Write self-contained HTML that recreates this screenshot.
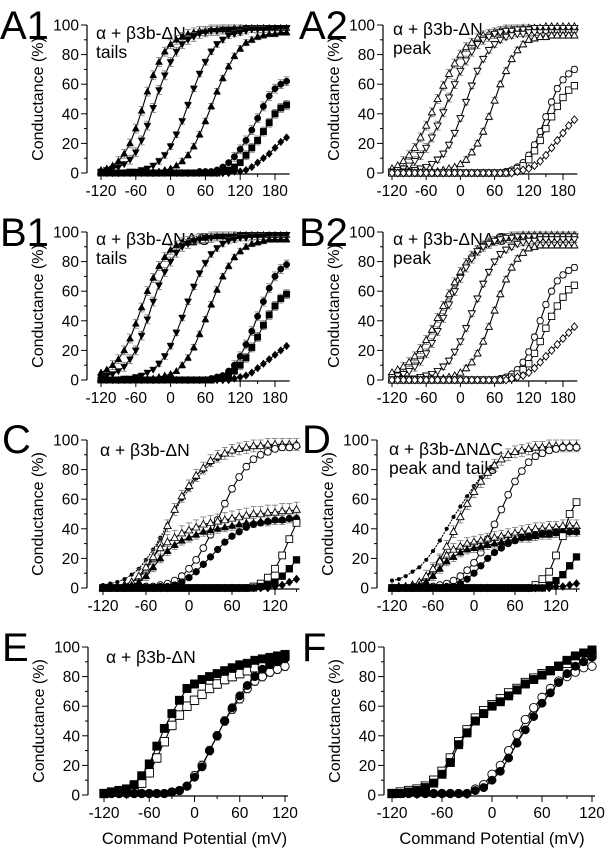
<!DOCTYPE html>
<html><head><meta charset="utf-8"><style>
html,body{margin:0;padding:0;background:#fff}
svg{display:block;font-family:"Liberation Sans",sans-serif}
</style></head><body>
<svg id="fig" width="611" height="853" viewBox="0 0 611 853"></svg>
<script>
// ---------- data (conductance %, sampled every 10 mV from -120) ----------
const voltsAB = [-120,-110,-100,-90,-80,-70,-60,-50,-40,-30,-20,-10,0,10,20,30,40,50,60,70,80,90,100,110,120,130,140,150,160,170,180,190,200];
const voltsCD = [-120,-110,-100,-90,-80,-70,-60,-50,-40,-30,-20,-10,0,10,20,30,40,50,60,70,80,90,100,110,120,130,140,150];
const voltsEF = [-120,-110,-100,-90,-80,-70,-60,-50,-40,-30,-20,-10,0,10,20,30,40,50,60,70,80,90,100,110,120];

const a1Tri1 = [2,3,5,8,13,20,30,42,55,66,75,82,87,90,92,94,95,96,96,97,97,97,97,98,98,98,98,98,98,98,98,98,98];
const a1Tri2 = [1,2,3,4,6,9,14,22,32,44,56,66,75,82,87,90,92,94,95,96,96,97,97,97,97,98,98,98,98,98,98,98,98];
const a1Tri3 = [0,0,0,0,0,1,1,2,3,5,8,12,18,26,35,46,57,67,75,82,87,90,93,94,95,96,97,97,97,98,98,98,98];
const a1Tri4 = [0,0,0,0,0,0,0,0,1,1,1,2,3,5,8,12,18,26,35,45,55,64,72,79,84,88,90,92,93,94,94,95,95];
const a1Circ = [0,0,0,0,0,0,0,0,0,0,0,0,0,0,0,0,0,1,1,1,2,4,7,11,16,22,29,37,45,52,57,60,62];
const a1Sq   = [0,0,0,0,0,0,0,0,0,0,0,0,0,0,0,0,0,0,0,0,0,1,2,4,7,12,17,22,28,34,40,44,46];
const a1Dia  = [0,0,0,0,0,0,0,0,0,0,0,0,0,0,0,0,0,0,0,0,0,0,0,1,1,2,4,7,10,13,17,21,24];

const a2P1 = [3,5,8,12,17,24,32,41,50,59,67,74,80,85,88,91,93,94,95,96,97,97,97,98,98,98,98,99,99,99,99,99,99];
const a2P2 = [1,2,3,5,8,12,17,24,32,41,51,60,69,76,82,87,90,92,94,95,96,96,97,97,97,98,98,98,98,98,98,98,98];
const a2P3 = [0,0,1,1,2,3,4,6,9,13,19,27,37,48,59,69,77,83,87,90,92,93,94,94,95,95,95,95,95,95,95,95,95];
const a2P4 = [0,0,0,0,0,0,0,1,1,2,3,4,6,9,14,20,28,38,49,60,69,77,83,87,90,91,92,92,93,93,93,93,93];
const a2Circ = [0,0,0,0,0,0,0,0,0,0,0,0,0,0,0,0,0,0,0,0,1,2,4,7,12,19,28,38,48,57,63,67,70];
const a2Sq   = [0,0,0,0,0,0,0,0,0,0,0,0,0,0,0,0,0,0,0,0,0,1,3,5,9,15,22,30,38,45,51,56,59];
const a2Dia  = [0,0,0,0,0,0,0,0,0,0,0,0,0,0,0,0,0,0,0,0,0,0,1,2,3,5,8,12,17,22,27,32,36];

const b1Tri1 = [5,7,10,14,20,28,38,49,60,69,77,83,88,91,93,94,95,96,96,97,97,97,97,98,98,98,98,98,98,98,98,98,98];
const b1Tri2 = [2,3,4,6,9,14,20,30,41,53,64,73,80,86,90,92,94,95,96,96,97,97,97,97,98,98,98,98,98,98,98,98,98];
const b1Tri3 = [0,0,0,0,1,1,2,3,5,7,11,16,23,32,42,53,63,72,79,85,89,92,94,95,96,96,97,97,97,98,98,98,98];
const b1Tri4 = [0,0,0,0,0,0,0,0,1,1,2,3,4,6,10,15,22,31,41,51,61,70,77,83,87,90,92,93,94,95,95,95,95];
const b1Circ = [0,0,0,0,0,0,0,0,0,0,0,0,0,0,0,0,0,0,0,1,2,3,6,10,16,24,33,43,53,62,70,75,78];
const b1Sq   = [0,0,0,0,0,0,0,0,0,0,0,0,0,0,0,0,0,0,0,0,1,2,3,6,10,15,22,29,37,44,50,55,58];
const b1Dia  = [0,0,0,0,0,0,0,0,0,0,0,0,0,0,0,0,0,0,0,0,0,0,0,1,2,3,5,8,11,14,17,20,23];

const b2P1 = [5,7,9,12,16,21,27,34,42,50,58,66,73,79,84,88,91,93,94,95,96,97,97,98,98,98,98,98,98,98,98,98,98];
const b2P2 = [2,3,4,6,9,13,18,25,33,42,51,60,69,76,82,87,90,92,94,95,96,96,97,97,97,97,97,97,97,97,97,97,97];
const b2P3 = [0,0,1,1,1,2,3,4,6,9,13,19,26,35,45,55,65,73,80,85,88,90,92,93,94,94,95,95,95,95,95,95,95];
const b2P4 = [0,0,0,0,0,0,0,1,1,1,2,3,5,8,12,18,26,36,47,58,68,76,82,86,89,90,91,91,91,91,91,91,91];
const b2Circ = [0,0,0,0,0,0,0,0,0,0,0,0,0,0,0,0,0,0,0,1,2,4,7,12,19,29,40,51,60,67,71,74,76];
const b2Sq   = [0,0,0,0,0,0,0,0,0,0,0,0,0,0,0,0,0,0,0,0,1,2,4,7,11,18,26,35,43,50,56,61,64];
const b2Dia  = [0,0,0,0,0,0,0,0,0,0,0,0,0,0,0,0,0,0,0,0,0,1,2,3,5,8,12,16,20,24,28,32,36];

const cFit   = [2,3,4,6,9,13,19,26,34,43,52,60,67,74,79,84,87,90,92,93,94,95,96,96,97,97,97,97];
const cOTri  = [0,1,1,2,4,7,12,20,30,42,53,62,69,76,81,86,89,91,93,94,95,96,96,97,97,97,97,97];
const cOCirc = [0,0,0,0,0,0,1,1,2,3,5,8,13,19,27,36,46,57,67,75,82,87,90,92,94,95,95,96];
const cTri   = [0,0,0,1,2,4,8,14,20,25,29,32,34,36,38,39,40,41,42,43,44,44,45,45,46,46,47,47];
const cOPlat = [0,0,1,2,4,8,14,21,27,31,34,37,39,41,43,44,45,46,47,48,49,50,50,51,51,52,52,53];
const cCirc  = [0,0,0,0,0,0,0,0,1,1,2,4,7,11,16,21,26,31,35,38,41,43,44,45,46,46,47,47];
const cOSq   = [0,0,0,0,0,0,0,0,0,0,0,0,0,0,0,0,0,0,0,0,0,1,3,7,13,22,33,44];
const cSq    = [0,0,0,0,0,0,0,0,0,0,0,0,0,0,0,0,0,0,0,0,0,0,1,2,4,8,13,19];
const cDia   = [0,0,0,0,0,0,0,0,0,0,0,0,0,0,0,0,0,0,0,0,0,0,0,0,1,2,4,6];

const dFit   = [5,6,8,11,14,19,25,32,40,48,55,62,69,75,80,84,87,90,92,93,94,95,95,96,96,96,96,96];
const dOTri  = [0,1,1,2,4,7,12,19,28,38,48,57,65,72,78,83,87,90,92,93,94,95,95,96,96,96,96,96];
const dOCirc = [0,0,0,0,0,1,1,2,3,5,8,12,17,24,33,43,53,63,72,79,85,89,91,93,94,95,95,95];
const dTri   = [0,0,0,1,2,4,8,13,18,21,24,26,27,28,29,30,31,32,33,34,34,35,36,36,37,37,38,38];
const dOPlat = [0,0,1,2,4,8,13,18,22,26,28,30,31,32,33,34,35,36,37,38,39,40,40,41,41,42,42,42];
const dCirc  = [0,0,0,0,0,0,0,0,1,1,3,6,10,15,20,24,27,30,32,34,35,36,37,37,38,38,38,38];
const dOSq   = [0,0,0,0,0,0,0,0,0,0,0,0,0,0,0,0,0,0,0,0,0,2,6,11,22,35,50,58];
const dSq    = [0,0,0,0,0,0,0,0,0,0,0,0,0,0,0,0,0,0,0,0,0,0,0,2,5,9,15,21];
const dDia   = [0,0,0,0,0,0,0,0,0,0,0,0,0,0,0,0,0,0,0,0,0,0,0,0,1,1,2,3];

const eSq    = [1,2,3,4,7,13,21,33,45,55,64,72,75,78,80,82,84,86,88,89,91,92,93,94,95];
const eOSq   = [1,2,3,4,6,8,15,25,36,47,54,60,64,68,72,75,78,80,82,84,86,88,90,92,94];
const eCirc  = [1,1,1,1,1,1,1,1,1,2,3,6,12,19,30,40,50,59,67,74,80,85,88,90,92];
const eOCirc = [1,1,1,1,1,1,1,1,1,2,3,6,13,20,30,40,50,58,65,72,77,80,83,85,87];

const fSq    = [1,1,2,3,5,8,14,22,34,42,50,55,60,63,67,71,75,78,81,84,87,91,94,96,98];
const fOSq   = [1,2,3,4,6,10,16,25,36,44,52,57,61,65,69,72,76,79,82,84,87,89,92,94,95];
const fCirc  = [1,1,1,1,1,1,1,1,1,1,3,5,10,16,25,35,44,53,62,69,76,82,87,90,93];
const fOCirc = [1,1,1,1,1,1,1,1,1,1,4,7,14,20,30,41,51,59,66,72,77,80,83,86,87];

const yTicks = [0,20,40,60,80,100];
const xTicksAB = [-120,-60,0,60,120,180];
const xTicksCF = [-120,-60,0,60,120];

// ---------- rendering ----------
const NS = "http://www.w3.org/2000/svg";
const svg = document.getElementById('fig');
function mk(tag, attrs, parent){
  const e = document.createElementNS(NS, tag);
  for (const k in attrs) e.setAttribute(k, attrs[k]);
  (parent||svg).appendChild(e);
  return e;
}
function marker(g, type, x, y, r){
  const open = type[0]==='o';
  const t = open ? type.slice(1) : type;
  const fill = open ? '#fff' : '#000';
  const st = {fill:fill, stroke:'#000', 'stroke-width':open?0.9:0.5};
  let e;
  if (t==='c') e = mk('circle', Object.assign({cx:x,cy:y,r:r}, st), g);
  else if (t==='s') e = mk('rect', Object.assign({x:x-r,y:y-r,width:2*r,height:2*r}, st), g);
  else if (t==='u') e = mk('polygon', Object.assign({points:`${x},${y-r*1.15} ${x-r*1.1},${y+r*0.8} ${x+r*1.1},${y+r*0.8}`}, st), g);
  else if (t==='v') e = mk('polygon', Object.assign({points:`${x},${y+r*1.15} ${x-r*1.1},${y-r*0.8} ${x+r*1.1},${y-r*0.8}`}, st), g);
  else if (t==='d') e = mk('polygon', Object.assign({points:`${x},${y-r*1.2} ${x+r},${y} ${x},${y+r*1.2} ${x-r},${y}`}, st), g);
  else e = mk('circle', {cx:x,cy:y,r:r*0.6,fill:'#000'}, g);
  
  
}

function panel(p){
  const g = mk('g', {});
  
  
  const xs = v => p.x0 + (v - p.v0) * (p.x1 - p.x0) / (p.v1 - p.v0);
  const ys = c => p.y0 - c * (p.y0 - p.y100) / 100;
  const L = mk('text', {x:p.lx, y:p.ly, 'font-size':40, fill:'#000'}, g);
  L.textContent = p.id;
  
  
  const ya = mk('g', {}, g);
  
  
  mk('line', {x1:p.ax, y1:ys(100), x2:p.ax, y2:ys(0), stroke:'#000', 'stroke-width':1.2}, ya);
  for (let c=0;c<=100;c+=10){
    const major = c%20===0;
    mk('line', {x1:p.ax-(major?6:3), y1:ys(c), x2:p.ax, y2:ys(c), stroke:'#000', 'stroke-width':1}, ya);
  }
  yTicks.forEach(c=>{
    const t = mk('text', {x:p.ax-8, y:ys(c)+5.5, 'font-size':15.5, 'text-anchor':'end'}, ya);
    t.textContent = c;
    
    
  });
  const yt = mk('text', {x:0, y:0, 'font-size':16, 'text-anchor':'middle', transform:`translate(${p.ax-44},${(ys(0)+ys(100))/2}) rotate(-90)`}, ya);
  yt.textContent = 'Conductance (%)';
  
  
  const xa = mk('g', {}, g);
  
  
  const axY = ys(0) + 1;
  mk('line', {x1:xs(p.vmin)-4, y1:axY, x2:xs(p.vmax)+3, y2:axY, stroke:'#000', 'stroke-width':1.2}, xa);
  for (let v=p.vmin; v<=p.vmax; v+=30){
    const major = (v+120)%60===0;
    mk('line', {x1:xs(v), y1:axY, x2:xs(v), y2:axY+(major?6:3), stroke:'#000', 'stroke-width':1}, xa);
  }
  p.xticks.forEach(v=>{
    const t = mk('text', {x:xs(v), y:axY+22, 'font-size':15.5, 'text-anchor':'middle'}, xa);
    t.textContent = v;
    
    
  });
  if (p.xtitle){
    const t = mk('text', {x:(xs(p.vmin)+xs(p.vmax))/2, y:axY+48, 'font-size':16.5, 'text-anchor':'middle'}, xa);
    t.textContent = 'Command Potential (mV)';
    
    
  }
  p.note.forEach((s,i)=>{
    const t = mk('text', {x:p.nx, y:p.ny + i*19, 'font-size':17.5}, g);
    t.textContent = s;
    
    
  });
  p.series.forEach(s=>{
    const sg = mk('g', {}, g);
    
    
    const pts = s.vals.map((c,i)=>[xs(p.volts[i]), ys(c)]);
    mk('polyline', {points:pts.map(q=>q[0].toFixed(1)+','+q[1].toFixed(1)).join(' '), fill:'none', stroke:'#000', 'stroke-width':1.1, 'stroke-dasharray':s.dash||'none'}, sg);
    if (s.err){
      s.vals.forEach((c,i)=>{
        if (c<8 || c>97) return;
        const x = xs(p.volts[i]), y1 = ys(c+s.err), y2 = ys(c-s.err);
        mk('line', {x1:x,y1:y1,x2:x,y2:y2,stroke:'#666','stroke-width':0.7}, sg);
        mk('line', {x1:x-3,y1:y1,x2:x+3,y2:y1,stroke:'#666','stroke-width':0.7}, sg);
        mk('line', {x1:x-3,y1:y2,x2:x+3,y2:y2,stroke:'#666','stroke-width':0.7}, sg);
      });
    }
    if (s.m) s.vals.forEach((c,i)=>marker(sg, s.m, xs(p.volts[i]), ys(c), p.r));
  });
}

const panels = [
 {id:'A1', lx:0, ly:39, ax:87, y100:25, y0:173, x0:101, x1:275, v0:-120, v1:180, vmin:-120, vmax:200, volts:voltsAB, xticks:xTicksAB, r:3.2,
  nx:96, ny:39, note:['α + β3b-ΔN','tails'],
  series:[{name:'t1',vals:a1Tri1,m:'u',err:3},{name:'t2',vals:a1Tri2,m:'v',err:3},{name:'t3',vals:a1Tri3,m:'v',err:2},{name:'t4',vals:a1Tri4,m:'u',err:2},{name:'circ',vals:a1Circ,m:'c',err:3},{name:'sq',vals:a1Sq,m:'s',err:3},{name:'dia',vals:a1Dia,m:'d'}]},
 {id:'A2', lx:299, ly:39, ax:383, y100:25, y0:173, x0:392, x1:563, v0:-120, v1:180, vmin:-120, vmax:200, volts:voltsAB, xticks:xTicksAB, r:3.2,
  nx:393, ny:35, note:['α + β3b-ΔN','peak'],
  series:[{name:'p1',vals:a2P1,m:'ou',err:3},{name:'p2',vals:a2P2,m:'ov',err:3},{name:'p3',vals:a2P3,m:'ov',err:2},{name:'p4',vals:a2P4,m:'ou',err:2},{name:'circ',vals:a2Circ,m:'oc',err:2},{name:'sq',vals:a2Sq,m:'os',err:2},{name:'dia',vals:a2Dia,m:'od'}]},
 {id:'B1', lx:0, ly:246, ax:87, y100:232, y0:380, x0:101, x1:275, v0:-120, v1:180, vmin:-120, vmax:200, volts:voltsAB, xticks:xTicksAB, r:3.2,
  nx:96, ny:245, note:['α + β3b-ΔNΔC','tails'],
  series:[{name:'t1',vals:b1Tri1,m:'u',err:3},{name:'t2',vals:b1Tri2,m:'v',err:3},{name:'t3',vals:b1Tri3,m:'v',err:2},{name:'t4',vals:b1Tri4,m:'u',err:2},{name:'circ',vals:b1Circ,m:'c',err:3},{name:'sq',vals:b1Sq,m:'s',err:3},{name:'dia',vals:b1Dia,m:'d'}]},
 {id:'B2', lx:299, ly:246, ax:383, y100:232, y0:380, x0:392, x1:563, v0:-120, v1:180, vmin:-120, vmax:200, volts:voltsAB, xticks:xTicksAB, r:3.2,
  nx:393, ny:245, note:['α + β3b-ΔNΔC','peak'],
  series:[{name:'p1',vals:b2P1,m:'ou',err:3},{name:'p2',vals:b2P2,m:'ov',err:3},{name:'p3',vals:b2P3,m:'ov',err:2},{name:'p4',vals:b2P4,m:'ou',err:2},{name:'circ',vals:b2Circ,m:'oc',err:2},{name:'sq',vals:b2Sq,m:'os',err:2},{name:'dia',vals:b2Dia,m:'od'}]},
 {id:'C', lx:2, ly:453, ax:87, y100:440, y0:588, x0:103, x1:275, v0:-120, v1:120, vmin:-120, vmax:150, volts:voltsCD, xticks:xTicksCF, r:3.4,
  nx:100, ny:456, note:['α + β3b-ΔN'],
  series:[{name:'fit',vals:cFit,m:'p',dash:'2,1'},{name:'open-tri',vals:cOTri,m:'ou',err:4},{name:'open-circ',vals:cOCirc,m:'oc',err:2},{name:'open-plateau',vals:cOPlat,m:'ou',err:5},{name:'tri',vals:cTri,m:'u',err:3},{name:'circ',vals:cCirc,m:'c'},{name:'open-sq',vals:cOSq,m:'os'},{name:'sq',vals:cSq,m:'s'},{name:'dia',vals:cDia,m:'d'}]},
 {id:'D', lx:302, ly:453, ax:377, y100:440, y0:588, x0:392, x1:556, v0:-120, v1:120, vmin:-120, vmax:150, volts:voltsCD, xticks:xTicksCF, r:3.4,
  nx:389, ny:455, note:['α + β3b-ΔNΔC','peak and tails'],
  series:[{name:'fit',vals:dFit,m:'p',dash:'2,1'},{name:'open-tri',vals:dOTri,m:'ou',err:4},{name:'open-circ',vals:dOCirc,m:'oc',err:2},{name:'open-plateau',vals:dOPlat,m:'ou',err:4},{name:'tri',vals:dTri,m:'u',err:3},{name:'circ',vals:dCirc,m:'c'},{name:'open-sq',vals:dOSq,m:'os'},{name:'sq',vals:dSq,m:'s'},{name:'dia',vals:dDia,m:'d'}]},
 {id:'E', lx:2, ly:661, ax:88, y100:647, y0:795, x0:104, x1:285, v0:-120, v1:120, vmin:-120, vmax:120, volts:voltsEF, xticks:xTicksCF, r:4.2, xtitle:true,
  nx:106, ny:663, note:['α + β3b-ΔN'],
  series:[{name:'open-sq',vals:eOSq,m:'os',err:3},{name:'sq',vals:eSq,m:'s'},{name:'open-circ',vals:eOCirc,m:'oc',err:3},{name:'circ',vals:eCirc,m:'c'}]},
 {id:'F', lx:302, ly:661, ax:384, y100:647, y0:795, x0:392, x1:592, v0:-120, v1:120, vmin:-120, vmax:120, volts:voltsEF, xticks:xTicksCF, r:4.2, xtitle:true,
  nx:400, ny:663, note:[],
  series:[{name:'open-sq',vals:fOSq,m:'os'},{name:'sq',vals:fSq,m:'s'},{name:'open-circ',vals:fOCirc,m:'oc'},{name:'circ',vals:fCirc,m:'c'}]}
];
panels.forEach(panel);
</script>
</body></html>
